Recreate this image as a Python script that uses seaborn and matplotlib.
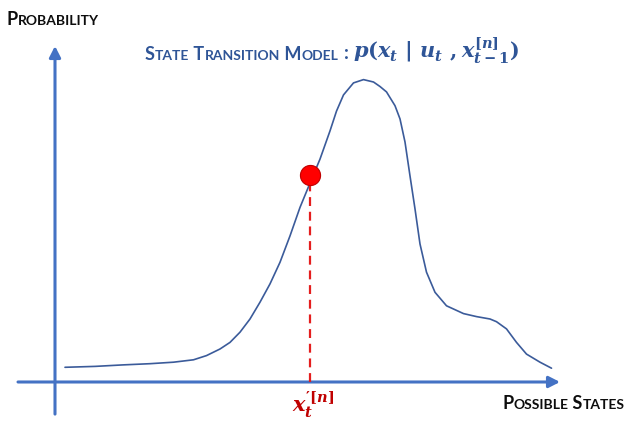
import matplotlib.pyplot as plt
import seaborn as sns
import pandas as pd

# curve (state, probability)
states = [0.20, 0.80, 1.36, 1.90, 2.37, 2.77, 3.03, 3.30, 3.50, 3.70, 3.90, 4.10,
          4.30, 4.50, 4.70, 4.90, 5.10, 5.30, 5.50, 5.63, 5.77, 5.97, 6.17, 6.37,
          6.50, 6.63, 6.80, 6.90, 7.00, 7.10, 7.20, 7.30, 7.43, 7.60, 7.83, 8.17,
          8.43, 8.70, 8.83, 9.03, 9.23, 9.43, 9.70, 9.93]
probability = [0.049, 0.052, 0.057, 0.061, 0.066, 0.074, 0.088, 0.110, 0.132, 0.166,
               0.210, 0.266, 0.327, 0.399, 0.487, 0.582, 0.663, 0.743, 0.837, 0.903,
               0.957, 0.997, 1.008, 1.000, 0.985, 0.967, 0.921, 0.877, 0.800, 0.687,
               0.577, 0.460, 0.366, 0.299, 0.254, 0.228, 0.218, 0.210, 0.201, 0.177,
               0.132, 0.093, 0.066, 0.046]

sample_state = 5.10
sample_prob = 0.69

x_label = "Possible States"
y_label = "Probability"
title_words = "State Transition Model"
title_math = r"$p(x_t\ |\ u_t\ ,x_{t-1}^{[n]})$"
sample_label = r"$x_t^{\prime[n]}$"

axis_blue = "#4472C4"
curve_blue = "#3B5B9A"
title_blue = "#2F5597"
dark_red = "#C00000"

sns.set_theme(style="white")
plt.rcParams['font.family'] = ['Lato', 'DejaVu Sans']
plt.rcParams['mathtext.fontset'] = 'custom'
plt.rcParams['mathtext.rm'] = 'DejaVu Serif:bold'
plt.rcParams['mathtext.it'] = 'DejaVu Serif:italic:bold'
plt.rcParams['mathtext.bf'] = 'DejaVu Serif:bold'

fig = plt.figure(figsize=(6.25, 4.27), dpi=100)
ax = fig.add_axes([0, 0, 1, 1])

# axes with arrow heads
arrow = dict(arrowstyle='-|>,head_length=0.55,head_width=0.28', color=axis_blue,
             lw=2.2, shrinkA=0, shrinkB=0)
ax.annotate('', xy=(10.1, 0), xytext=(-0.74, 0), arrowprops=arrow)
ax.annotate('', xy=(0, 1.12), xytext=(0, -0.107), arrowprops=arrow)

df = pd.DataFrame({'state': states, 'prob': probability})
sns.lineplot(data=df, x='state', y='prob', color=curve_blue, lw=1.2,
             solid_joinstyle='round', ax=ax)

ax.plot([sample_state, sample_state], [0, sample_prob], color='#E41E1E', lw=1.6,
        linestyle=(0, (4, 2.6)), zorder=3)
sns.scatterplot(x=[sample_state], y=[sample_prob], s=210, color='#FF0000',
                edgecolor='#C00000', linewidth=0.8, zorder=4, ax=ax)
ax.set_xlim(-1.1, 11.4)
ax.set_ylim(-0.1467, 1.2767)
ax.axis('off')


def small_caps(x, y, text, big, small, color):
    pieces = []
    for i, word in enumerate(text.split()):
        pieces.append(((' ' if i else '') + word[0].upper(), big))
        pieces.append((word[1:].upper(), small))
    prev = fig.text(x, y, pieces[0][0], fontsize=big, fontweight='bold',
                    color=color, va='bottom')
    last = big
    for s, size in pieces[1:]:
        shift = 0.2 * (last - size)
        prev = ax.annotate(s, xy=(1, 0), xycoords=prev, xytext=(0, shift),
                           textcoords='offset points', fontsize=size,
                           fontweight='bold', color=color, va='bottom')
        last = size
    return prev


small_caps(7 / 625, 1 - 28 / 427, y_label, 13, 10, '#0D0D0D')
small_caps(502 / 625, 1 - 412 / 427, x_label, 13, 10, '#0D0D0D')
small_caps(145 / 625, 1 - 63 / 427, title_words, 13, 10, title_blue)
fig.text(344 / 625, 1 - 59 / 427, ':', fontsize=13.5, fontweight='bold',
         color=title_blue, va='baseline')
fig.text(353 / 625, 1 - 59 / 427, title_math, fontsize=15, color=title_blue,
         va='baseline')
fig.text(313 / 625, 1 - 413 / 427, sample_label, fontsize=15, color=dark_red,
         va='baseline', ha='center')

fig.savefig('out.png', dpi=100)
